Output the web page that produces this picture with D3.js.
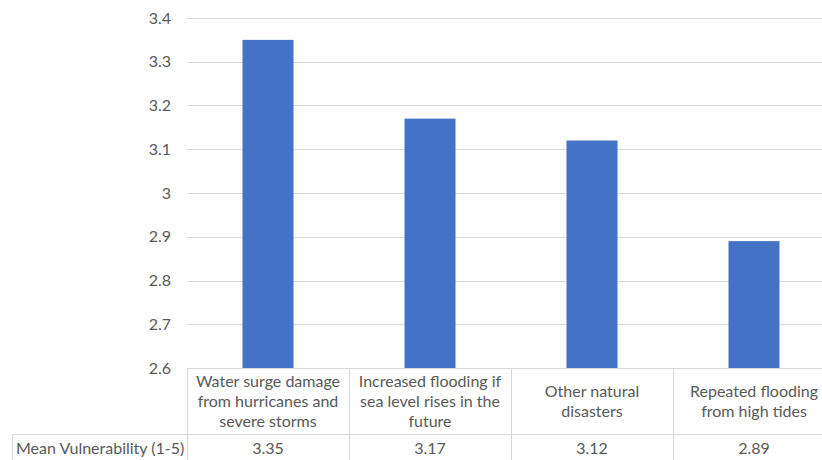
<!DOCTYPE html>
<html><head><meta charset="utf-8">
<script src="https://cdn.jsdelivr.net/npm/d3@7"></script>
<style>body{margin:0;background:#fff;overflow:hidden}svg{display:block}</style>
</head><body>
<script>
const categories = [
  ["Water surge damage", "from hurricanes and", "severe storms"],
  ["Increased flooding if", "sea level rises in the", "future"],
  ["Other natural", "disasters"],
  ["Repeated flooding", "from high tides"]
];
const values = [3.35, 3.17, 3.12, 2.89];
const valueLabels = ["3.35", "3.17", "3.12", "2.89"];
const seriesName = "Mean Vulnerability (1-5)";
const yTicks = [2.6, 2.7, 2.8, 2.9, 3.0, 3.1, 3.2, 3.3, 3.4];
const yTickLabels = ["2.6", "2.7", "2.8", "2.9", "3", "3.1", "3.2", "3.3", "3.4"];

const W = 822, H = 460;
const font = "Lato, 'Open Sans', sans-serif";
const fs = "16px";
const txt = "#595959", grid = "#d9d9d9";
const svg = d3.select("body").append("svg").attr("width", W).attr("height", H);

const x0 = 187, step = 162;
const x = d3.scaleBand().domain(d3.range(categories.length)).range([x0, x0 + step * categories.length]).paddingInner(0).paddingOuter(0);
const y = d3.scaleLinear().domain([2.6, 3.4]).range([368, 18]);

// gridlines
svg.append("g").selectAll("line").data(yTicks).join("line")
  .attr("x1", x0).attr("x2", x0 + step * categories.length)
  .attr("y1", d => Math.round(y(d)) + 0.5).attr("y2", d => Math.round(y(d)) + 0.5)
  .attr("stroke", grid).attr("stroke-width", 1);

// y tick labels
svg.append("g").selectAll("text").data(yTicks).join("text")
  .attr("x", 171).attr("y", d => y(d)).attr("dy", "0.35em")
  .attr("text-anchor", "end").attr("fill", txt)
  .style("font-family", font).style("font-size", fs)
  .text((d, i) => yTickLabels[i]);

// bars
const bw = 51;
svg.append("g").selectAll("rect").data(values).join("rect")
  .attr("x", (d, i) => x(i) + x.bandwidth() / 2 - bw / 2)
  .attr("width", bw)
  .attr("y", d => y(d))
  .attr("height", d => y(2.6) - y(d))
  .attr("fill", "#4472C4");

// data table
const tTop = 368.5, tMid = 434.5, tBot = 470;
const tg = svg.append("g").attr("stroke", grid).attr("stroke-width", 1);
const right = x0 + step * categories.length;
tg.append("line").attr("x1", x0).attr("x2", right).attr("y1", tTop).attr("y2", tTop);
tg.append("line").attr("x1", 12).attr("x2", right).attr("y1", tMid).attr("y2", tMid);
tg.append("line").attr("x1", 12.5).attr("x2", 12.5).attr("y1", tMid).attr("y2", tBot);
d3.range(categories.length + 1).forEach(i => {
  const xx = x0 + i * step + 0.5;
  tg.append("line").attr("x1", xx).attr("x2", xx).attr("y1", tTop).attr("y2", tBot);
});

// category labels
const lh = 20.3;
const catG = svg.append("g");
categories.forEach((lines, i) => {
  const cy = 401.5;
  const start = cy - (lines.length - 1) * lh / 2;
  const t = catG.append("text").attr("text-anchor", "middle").attr("fill", txt)
    .style("font-family", font).style("font-size", fs);
  lines.forEach((ln, j) => {
    t.append("tspan").attr("x", x(i) + x.bandwidth() / 2).attr("y", start + j * lh).attr("dy", "0.35em").text(ln);
  });
});

// values row
svg.append("g").selectAll("text").data(valueLabels).join("text")
  .attr("x", (d, i) => x(i) + x.bandwidth() / 2).attr("y", 448).attr("dy", "0.35em")
  .attr("text-anchor", "middle").attr("fill", txt)
  .style("font-family", font).style("font-size", fs)
  .text(d => d);

svg.append("text").attr("x", 16).attr("y", 448).attr("dy", "0.35em")
  .attr("fill", txt).style("font-family", font).style("font-size", fs)
  .text(seriesName);
</script>
</body></html>
